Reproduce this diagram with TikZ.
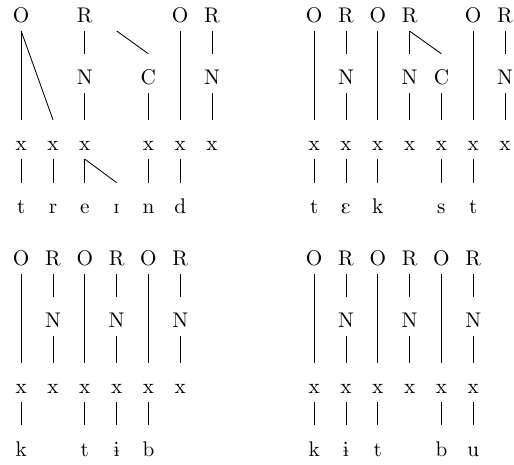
\documentclass[tikz,border=0pt]{standalone}
\usepackage{tipa}
\usepackage{graphicx}
\newcommand\Lbl[1]{\scalebox{2.12}{#1}}
\begin{document}
\begin{tikzpicture}[x=1pt,y=-1pt,
  lab/.style={anchor=base,inner sep=0pt,text height=30.7pt,text depth=8.2pt,font=\fontsize{10}{12}\selectfont},
  ln/.style={line width=0.85pt}]
\useasboundingbox (0,0) rectangle (514,464);
% ---------- top left ----------
\node[lab] (aO0) at (21.2,22.7) {\Lbl{O}};
\node[lab] (aR2) at (84.8,22.7) {\Lbl{R}};
\node[lab] (aO5) at (180.2,22.7) {\Lbl{O}};
\node[lab] (aR6) at (212.0,22.7) {\Lbl{R}};
\coordinate (aC3) at (116.6,30.9);
\node[lab] (aN2) at (84.8,84.7) {\Lbl{N}};
\node[lab] (aC4) at (148.4,84.7) {\Lbl{C}};
\node[lab] (aN6) at (212.0,84.7) {\Lbl{N}};
\node[lab] (ax0) at (21.2,150.7) {\Lbl{x}};
\node[lab] (ax1) at (53.0,150.7) {\Lbl{x}};
\node[lab] (ax2) at (84.8,150.7) {\Lbl{x}};
\node[lab] (ax4) at (148.4,150.7) {\Lbl{x}};
\node[lab] (ax5) at (180.2,150.7) {\Lbl{x}};
\node[lab] (ax6) at (212.0,150.7) {\Lbl{x}};
\node[lab] (as0) at (21.2,213.5) {\Lbl{t}};
\node[lab] (as1) at (53.0,213.5) {\Lbl{r}};
\node[lab] (as2) at (84.8,213.5) {\Lbl{e}};
\node[lab] (as3) at (116.6,213.5) {\Lbl{\textipa{I}}};
\node[lab] (as4) at (148.4,213.5) {\Lbl{n}};
\node[lab] (as5) at (180.2,213.5) {\Lbl{d}};
\draw[ln] (aO0.south) -- (ax0.north);
\draw[ln] (aO0.south) -- (ax1.north);
\draw[ln] (aR2.south) -- (aN2.north);
\draw[ln] (aC3) -- (aC4.north);
\draw[ln] (aO5.south) -- (ax5.north);
\draw[ln] (aR6.south) -- (aN6.north);
\draw[ln] (aN2.south) -- (ax2.north);
\draw[ln] (aC4.south) -- (ax4.north);
\draw[ln] (aN6.south) -- (ax6.north);
\draw[ln] (ax0.south) -- (as0.north);
\draw[ln] (ax1.south) -- (as1.north);
\draw[ln] (ax2.south) -- (as2.north);
\draw[ln] (ax2.south) -- (as3.north);
\draw[ln] (ax4.south) -- (as4.north);
\draw[ln] (ax5.south) -- (as5.north);
% ---------- top right ----------
\node[lab] (bO0) at (314.2,22.7) {\Lbl{O}};
\node[lab] (bR1) at (346.0,22.7) {\Lbl{R}};
\node[lab] (bO2) at (377.8,22.7) {\Lbl{O}};
\node[lab] (bR3) at (409.6,22.7) {\Lbl{R}};
\node[lab] (bO5) at (473.2,22.7) {\Lbl{O}};
\node[lab] (bR6) at (505.0,22.7) {\Lbl{R}};
\node[lab] (bN1) at (346.0,84.7) {\Lbl{N}};
\node[lab] (bN3) at (409.6,84.7) {\Lbl{N}};
\node[lab] (bC4) at (441.4,84.7) {\Lbl{C}};
\node[lab] (bN6) at (505.0,84.7) {\Lbl{N}};
\node[lab] (bx0) at (314.2,150.7) {\Lbl{x}};
\node[lab] (bx1) at (346.0,150.7) {\Lbl{x}};
\node[lab] (bx2) at (377.8,150.7) {\Lbl{x}};
\node[lab] (bx3) at (409.6,150.7) {\Lbl{x}};
\node[lab] (bx4) at (441.4,150.7) {\Lbl{x}};
\node[lab] (bx5) at (473.2,150.7) {\Lbl{x}};
\node[lab] (bx6) at (505.0,150.7) {\Lbl{x}};
\node[lab] (bs0) at (314.2,213.5) {\Lbl{t}};
\node[lab] (bs1) at (346.0,213.5) {\Lbl{\textipa{E}}};
\node[lab] (bs2) at (377.8,213.5) {\Lbl{k}};
\node[lab] (bs4) at (441.4,213.5) {\Lbl{s}};
\node[lab] (bs5) at (473.2,213.5) {\Lbl{t}};
\draw[ln] (bO0.south) -- (bx0.north);
\draw[ln] (bR1.south) -- (bN1.north);
\draw[ln] (bN1.south) -- (bx1.north);
\draw[ln] (bO2.south) -- (bx2.north);
\draw[ln] (bR3.south) -- (bN3.north);
\draw[ln] (bR3.south) -- (bC4.north);
\draw[ln] (bN3.south) -- (bx3.north);
\draw[ln] (bC4.south) -- (bx4.north);
\draw[ln] (bO5.south) -- (bx5.north);
\draw[ln] (bR6.south) -- (bN6.north);
\draw[ln] (bN6.south) -- (bx6.north);
\draw[ln] (bx0.south) -- (bs0.north);
\draw[ln] (bx1.south) -- (bs1.north);
\draw[ln] (bx2.south) -- (bs2.north);
\draw[ln] (bx4.south) -- (bs4.north);
\draw[ln] (bx5.south) -- (bs5.north);
% ---------- bottom left ----------
\node[lab] (cO0) at (21.2,265.5) {\Lbl{O}};
\node[lab] (cR1) at (53.0,265.5) {\Lbl{R}};
\node[lab] (cO2) at (84.8,265.5) {\Lbl{O}};
\node[lab] (cR3) at (116.6,265.5) {\Lbl{R}};
\node[lab] (cO4) at (148.4,265.5) {\Lbl{O}};
\node[lab] (cR5) at (180.2,265.5) {\Lbl{R}};
\node[lab] (cN1) at (53.0,327.5) {\Lbl{N}};
\node[lab] (cN3) at (116.6,327.5) {\Lbl{N}};
\node[lab] (cN5) at (180.2,327.5) {\Lbl{N}};
\node[lab] (cx0) at (21.2,393.5) {\Lbl{x}};
\node[lab] (cx1) at (53.0,393.5) {\Lbl{x}};
\node[lab] (cx2) at (84.8,393.5) {\Lbl{x}};
\node[lab] (cx3) at (116.6,393.5) {\Lbl{x}};
\node[lab] (cx4) at (148.4,393.5) {\Lbl{x}};
\node[lab] (cx5) at (180.2,393.5) {\Lbl{x}};
\node[lab] (cs0) at (21.2,456.3) {\Lbl{k}};
\node[lab] (cs2) at (84.8,456.3) {\Lbl{t}};
\node[lab] (cs3) at (116.6,456.3) {\Lbl{\textipa{1}}};
\node[lab] (cs4) at (148.4,456.3) {\Lbl{b}};
\draw[ln] (cO0.south) -- (cx0.north);
\draw[ln] (cR1.south) -- (cN1.north);
\draw[ln] (cN1.south) -- (cx1.north);
\draw[ln] (cO2.south) -- (cx2.north);
\draw[ln] (cR3.south) -- (cN3.north);
\draw[ln] (cN3.south) -- (cx3.north);
\draw[ln] (cO4.south) -- (cx4.north);
\draw[ln] (cR5.south) -- (cN5.north);
\draw[ln] (cN5.south) -- (cx5.north);
\draw[ln] (cx0.south) -- (cs0.north);
\draw[ln] (cx2.south) -- (cs2.north);
\draw[ln] (cx3.south) -- (cs3.north);
\draw[ln] (cx4.south) -- (cs4.north);
% ---------- bottom right ----------
\node[lab] (dO0) at (314.2,265.5) {\Lbl{O}};
\node[lab] (dR1) at (346.0,265.5) {\Lbl{R}};
\node[lab] (dO2) at (377.8,265.5) {\Lbl{O}};
\node[lab] (dR3) at (409.6,265.5) {\Lbl{R}};
\node[lab] (dO4) at (441.4,265.5) {\Lbl{O}};
\node[lab] (dR5) at (473.2,265.5) {\Lbl{R}};
\node[lab] (dN1) at (346.0,327.5) {\Lbl{N}};
\node[lab] (dN3) at (409.6,327.5) {\Lbl{N}};
\node[lab] (dN5) at (473.2,327.5) {\Lbl{N}};
\node[lab] (dx0) at (314.2,393.5) {\Lbl{x}};
\node[lab] (dx1) at (346.0,393.5) {\Lbl{x}};
\node[lab] (dx2) at (377.8,393.5) {\Lbl{x}};
\node[lab] (dx3) at (409.6,393.5) {\Lbl{x}};
\node[lab] (dx4) at (441.4,393.5) {\Lbl{x}};
\node[lab] (dx5) at (473.2,393.5) {\Lbl{x}};
\node[lab] (ds0) at (314.2,456.3) {\Lbl{k}};
\node[lab] (ds1) at (346.0,456.3) {\Lbl{\textipa{1}}};
\node[lab] (ds2) at (377.8,456.3) {\Lbl{t}};
\node[lab] (ds4) at (441.4,456.3) {\Lbl{b}};
\node[lab] (ds5) at (473.2,456.3) {\Lbl{u}};
\draw[ln] (dO0.south) -- (dx0.north);
\draw[ln] (dR1.south) -- (dN1.north);
\draw[ln] (dN1.south) -- (dx1.north);
\draw[ln] (dO2.south) -- (dx2.north);
\draw[ln] (dR3.south) -- (dN3.north);
\draw[ln] (dN3.south) -- (dx3.north);
\draw[ln] (dO4.south) -- (dx4.north);
\draw[ln] (dR5.south) -- (dN5.north);
\draw[ln] (dN5.south) -- (dx5.north);
\draw[ln] (dx0.south) -- (ds0.north);
\draw[ln] (dx1.south) -- (ds1.north);
\draw[ln] (dx2.south) -- (ds2.north);
\draw[ln] (dx4.south) -- (ds4.north);
\draw[ln] (dx5.south) -- (ds5.north);
\end{tikzpicture}
\end{document}
